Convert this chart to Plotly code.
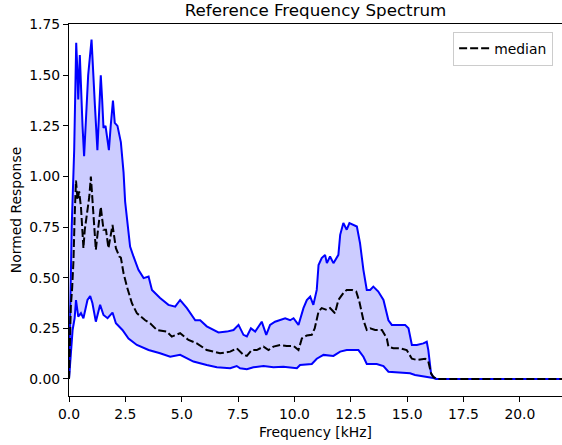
import plotly.graph_objects as go

# ---- data ----
upper_freq = [0.0, 0.05, 0.12, 0.23, 0.27, 0.32, 0.36, 0.41, 0.48, 0.52, 0.60, 0.67, 0.75, 0.85, 1.0,
              1.07, 1.15, 1.26, 1.34, 1.41, 1.47, 1.53, 1.62, 1.70, 1.77, 1.85, 1.95, 2.03, 2.15, 2.30,
              2.42, 2.49, 2.60, 2.71, 2.86, 3.08, 3.31, 3.53, 3.68, 4.04, 4.41, 4.71, 4.93, 5.23, 5.60,
              5.82, 6.11, 6.63, 7.0, 7.30, 7.52, 7.74, 7.89, 8.07, 8.26, 8.55, 8.75, 8.92, 9.14, 9.37,
              9.59, 9.81, 9.96, 10.18, 10.40, 10.55, 10.70, 10.84, 10.99, 11.07, 11.21, 11.36, 11.44,
              11.58, 11.73, 11.95, 12.03, 12.17, 12.32, 12.44, 12.59, 12.77, 12.91, 13.06, 13.21, 13.36,
              13.50, 13.72, 13.95, 14.17, 14.32, 14.69, 14.91, 15.06, 15.21, 15.43, 15.72, 15.87, 15.94,
              16.06, 16.16, 16.3, 22.05]
upper_vals = [0.0, 0.35, 0.75, 1.13, 1.45, 1.66, 1.55, 1.38, 1.60, 1.45, 1.25, 1.10, 1.30, 1.50, 1.676,
              1.55, 1.35, 1.13, 1.30, 1.50, 1.38, 1.24, 1.25, 1.18, 1.13, 1.25, 1.375, 1.265, 1.25, 1.17,
              1.02, 0.876, 0.77, 0.654, 0.605, 0.539, 0.498, 0.506, 0.44, 0.40, 0.366, 0.357, 0.39, 0.35, 0.29,
              0.29, 0.26, 0.23, 0.234, 0.242, 0.267, 0.218, 0.21, 0.25, 0.234, 0.283, 0.218, 0.267, 0.283, 0.29,
              0.30, 0.29, 0.30, 0.267, 0.35, 0.39, 0.407, 0.366, 0.44, 0.563, 0.597, 0.613, 0.572,
              0.605, 0.572, 0.613, 0.712, 0.77, 0.737, 0.77, 0.761, 0.753, 0.671, 0.539, 0.44, 0.44,
              0.456, 0.432, 0.39, 0.29, 0.267, 0.267, 0.267, 0.25, 0.168, 0.168, 0.176, 0.184, 0.143,
              0.028, 0.011, 0.0, 0.0]

median_freq = [0.0, 0.04, 0.08, 0.14, 0.20, 0.25, 0.31, 0.38, 0.45, 0.53, 0.64, 0.70, 0.82, 0.90, 0.97,
               1.09, 1.19, 1.30, 1.41, 1.53, 1.64, 1.75, 1.93, 2.08, 2.23, 2.30, 2.42, 2.57, 2.79, 3.01,
               3.38, 3.60, 3.90, 4.34, 4.56, 4.93, 5.30, 5.67, 6.11, 6.70, 7.15, 7.44, 7.74, 7.89, 8.11,
               8.33, 8.63, 8.85, 9.07, 9.37, 9.66, 9.96, 10.18, 10.33, 10.55, 10.77, 10.90, 11.07, 11.21,
               11.44, 11.58, 11.80, 11.95, 12.17, 12.32, 12.55, 12.74, 12.88, 13.06, 13.21, 13.36, 13.58,
               13.88, 14.10, 14.17, 14.39, 14.69, 14.98, 15.21, 15.43, 15.80, 15.94, 16.06, 16.16, 16.3, 22.05]
median_vals = [0.0, 0.15, 0.357, 0.45, 0.588, 0.80, 0.98, 0.885, 0.926, 0.85, 0.646, 0.737, 0.835, 0.90, 1.0,
               0.80, 0.638, 0.75, 0.85, 0.737, 0.737, 0.646, 0.761, 0.646, 0.605, 0.60, 0.522, 0.456, 0.374, 0.325,
               0.29, 0.275, 0.242, 0.234, 0.209, 0.226, 0.193, 0.176, 0.143, 0.127, 0.135, 0.152, 0.119, 0.114, 0.143,
               0.143, 0.16, 0.143, 0.16, 0.168, 0.163, 0.163, 0.143, 0.20, 0.215, 0.218, 0.25, 0.333, 0.35,
               0.341, 0.35, 0.325, 0.39, 0.424, 0.44, 0.44, 0.432, 0.382, 0.29, 0.242, 0.25, 0.242,
               0.242, 0.20, 0.16, 0.152, 0.152, 0.143, 0.10, 0.094, 0.10, 0.086, 0.028, 0.01, 0.0, 0.0]

lower_freq = [0.0, 0.08, 0.16, 0.25, 0.31, 0.41, 0.53, 0.64, 0.82, 0.94, 1.04, 1.19, 1.38, 1.53, 1.71,
              1.93, 2.08, 2.37, 2.64, 3.01, 3.53, 4.04, 4.49, 4.93, 5.52, 6.11, 6.56, 7.15, 7.44, 7.59,
              7.89, 8.18, 8.63, 9.07, 9.51, 10.11, 10.25, 10.77, 10.99, 11.29, 11.73, 12.03, 12.32, 12.62,
              12.84, 13.06, 13.21, 13.65, 13.95, 14.17, 14.69, 15.13, 15.35, 15.94, 16.16, 16.3, 22.05]
lower_vals = [0.0, 0.12, 0.242, 0.30, 0.39, 0.308, 0.325, 0.30, 0.39, 0.41, 0.374, 0.283, 0.366, 0.316, 0.30,
              0.328, 0.275, 0.242, 0.20, 0.168, 0.143, 0.127, 0.11, 0.119, 0.086, 0.069, 0.058, 0.053, 0.064, 0.053,
              0.048, 0.058, 0.064, 0.058, 0.061, 0.053, 0.069, 0.074, 0.10, 0.119, 0.114, 0.135, 0.143, 0.143,
              0.143, 0.11, 0.074, 0.074, 0.064, 0.036, 0.031, 0.028, 0.02, 0.011, 0.005, 0.0, 0.0]

x_ticks = [0.0, 2.5, 5.0, 7.5, 10.0, 12.5, 15.0, 17.5, 20.0]
y_ticks = [0.0, 0.25, 0.5, 0.75, 1.0, 1.25, 1.5, 1.75]

FONT = "DejaVu Sans"
BLUE = "#0000ff"

fig = go.Figure()

# shaded band between upper and lower
fig.add_trace(go.Scatter(
    x=upper_freq + lower_freq[::-1],
    y=upper_vals + lower_vals[::-1],
    fill="toself", fillcolor="rgba(0,0,255,0.2)",
    line=dict(width=0), mode="lines", showlegend=False, hoverinfo="skip"))

fig.add_trace(go.Scatter(x=upper_freq, y=upper_vals, mode="lines",
                         line=dict(color=BLUE, width=2), showlegend=False))
fig.add_trace(go.Scatter(x=lower_freq, y=lower_vals, mode="lines",
                         line=dict(color=BLUE, width=2), showlegend=False))
fig.add_trace(go.Scatter(x=median_freq, y=median_vals, mode="lines", name="median",
                         line=dict(color="black", width=2, dash="8px,3px")))

fig.update_layout(
    width=562, height=445,
    margin=dict(l=69, r=0, t=24, b=49),
    paper_bgcolor="white", plot_bgcolor="white",
    font=dict(family=FONT, size=13.9, color="#000000"),
    title=dict(text="Reference Frequency Spectrum", x=0.5, xref="paper",
               y=1 - 10 / 445, yref="container", xanchor="center", yanchor="middle",
               font=dict(size=16.7, family=FONT, color="black")),
    legend=dict(x=0.982, y=0.979, xanchor="right", yanchor="top",
                bgcolor="rgba(255,255,255,0.8)", bordercolor="#cccccc", borderwidth=1,
                font=dict(size=13.9, family=FONT)),
    xaxis=dict(range=[0, 21.87], tickvals=x_ticks, ticktext=[f"{v:.1f}" for v in x_ticks],
               showgrid=False, zeroline=False, showline=True, linecolor="black", linewidth=1,
               mirror=True, ticks="outside", ticklen=5, tickcolor="black",
               title=dict(text="Frequency [kHz]", standoff=6, font=dict(size=13.9))),
    yaxis=dict(range=[-0.084, 1.753], tickvals=y_ticks, ticktext=[f"{v:.2f}" for v in y_ticks],
               showgrid=False, zeroline=False, showline=True, linecolor="black", linewidth=1,
               ticks="outside", ticklen=5, tickcolor="black",
               title=dict(text="Normed Response", standoff=4, font=dict(size=13.9))),
)

fig.write_html("out.html")
